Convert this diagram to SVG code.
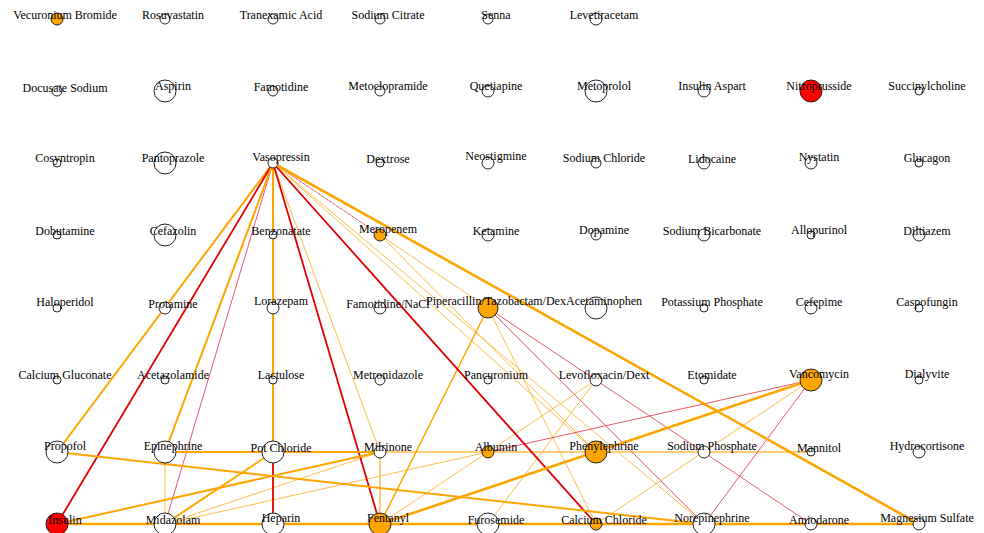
<svg xmlns="http://www.w3.org/2000/svg" width="984" height="533" viewBox="0 0 984 533">
<style>
.n circle{fill:#fff;stroke:#222;stroke-width:1}
.n circle.o{fill:#FFA500}
.n circle.r{fill:#FF0000}
.n text{font-family:"Liberation Serif","Times New Roman",serif;font-size:12px;text-anchor:middle;fill:#000}
.e line{fill:none;stroke-linecap:round}
.ot{stroke:#FFA500;stroke-width:2}
.ok{stroke:#FFA500;stroke-width:2.6}
.ol{stroke:#FFBE4A;stroke-width:1}
.rt{stroke:#E30000;stroke-width:1.8}
.rl{stroke:#E4465A;stroke-width:0.9}
</style>
<rect width="984" height="533" fill="#fff"/>
<g id="edges" class="e">
<line class="ol" x1="273" y1="163" x2="380" y2="452"/>
<line class="ol" x1="273" y1="163" x2="596" y2="452"/>
<line class="ol" x1="273" y1="163" x2="704" y2="524"/>
<line class="rl" x1="273" y1="163" x2="380" y2="235" stroke-dasharray="3,1.5"/>
<line class="ol" x1="380" y1="235" x2="488" y2="308"/>
<line class="ol" x1="380" y1="235" x2="596" y2="452"/>
<line class="rl" x1="273" y1="163" x2="165" y2="524"/>
<line class="ol" x1="165" y1="452" x2="165" y2="524"/>
<line class="ol" x1="380" y1="452" x2="811" y2="452" style="stroke-width:1.3"/>
<line class="ol" x1="165" y1="524" x2="380" y2="452"/>
<line class="ol" x1="165" y1="524" x2="488" y2="452"/>
<line class="ol" x1="380" y1="452" x2="380" y2="524" style="stroke-width:1.5"/>
<line class="ol" x1="380" y1="524" x2="596" y2="380"/>
<line class="ol" x1="596" y1="380" x2="488" y2="524"/>
<line class="ol" x1="488" y1="308" x2="596" y2="524"/>
<line class="ol" x1="811" y1="380" x2="596" y2="524"/>
<line class="rl" x1="811" y1="380" x2="488" y2="452"/>
<line class="rl" x1="811" y1="380" x2="704" y2="524"/>
<line class="rl" x1="488" y1="308" x2="704" y2="524"/>
<line class="rl" x1="488" y1="308" x2="811" y2="524"/>
<line class="ot" x1="488" y1="308" x2="380" y2="524" style="stroke-width:1.5"/>
<line class="ot" x1="273" y1="163" x2="57" y2="452"/>
<line class="rt" x1="273" y1="163" x2="57" y2="524"/>
<line class="ot" x1="273" y1="163" x2="165" y2="452"/>
<line class="ot" x1="273" y1="163" x2="273" y2="452"/>
<line class="rt" x1="273" y1="163" x2="380" y2="524"/>
<line class="rt" x1="273" y1="163" x2="596" y2="524"/>
<line class="ok" x1="273" y1="163" x2="919" y2="524"/>
<line class="rt" x1="273" y1="452" x2="273" y2="524"/>
<line class="ot" x1="273" y1="452" x2="165" y2="524"/>
<line class="ot" x1="165" y1="452" x2="380" y2="452"/>
<line class="ot" x1="57" y1="452" x2="704" y2="524"/>
<line class="ot" x1="57" y1="524" x2="380" y2="452"/>
<line class="ok" x1="57" y1="524" x2="919" y2="524"/>
<line class="ok" x1="811" y1="380" x2="380" y2="524"/>
</g>
<g id="n-vecuronium" class="n"><circle class="o" cx="57" cy="19" r="6"/><text x="65" y="18.5">Vecuronium Bromide</text></g>
<g id="n-rosuvastatin" class="n"><circle cx="165" cy="19" r="5"/><text x="173" y="18.5">Rosuvastatin</text></g>
<g id="n-tranexamic" class="n"><circle cx="273" cy="19" r="5"/><text x="281" y="18.5">Tranexamic Acid</text></g>
<g id="n-sodiumcitrate" class="n"><circle cx="380" cy="19" r="5"/><text x="388" y="18.5">Sodium Citrate</text></g>
<g id="n-senna" class="n"><circle cx="488" cy="19" r="5"/><text x="496" y="18.5">Senna</text></g>
<g id="n-levetiracetam" class="n"><circle cx="596" cy="19" r="6"/><text x="604" y="18.5">Levetiracetam</text></g>

<g id="n-docusate" class="n"><circle cx="57" cy="91" r="5"/><text x="65" y="92">Docusate Sodium</text></g>
<g id="n-aspirin" class="n"><circle cx="165" cy="91" r="11"/><text x="173" y="89.5">Aspirin</text></g>
<g id="n-famotidine" class="n"><circle cx="273" cy="91" r="5"/><text x="281" y="91">Famotidine</text></g>
<g id="n-metoclopramide" class="n"><circle cx="380" cy="91" r="5"/><text x="388" y="90">Metoclopramide</text></g>
<g id="n-quetiapine" class="n"><circle cx="488" cy="91" r="6"/><text x="496" y="89.5">Quetiapine</text></g>
<g id="n-metoprolol" class="n"><circle cx="596" cy="91" r="11"/><text x="604" y="89.5">Metoprolol</text></g>
<g id="n-insulinaspart" class="n"><circle cx="704" cy="91" r="6"/><text x="712" y="89.5">Insulin Aspart</text></g>
<g id="n-nitroprusside" class="n"><circle class="r" cx="811" cy="91" r="11"/><text x="819" y="89.5">Nitroprusside</text></g>
<g id="n-succinylcholine" class="n"><circle cx="919" cy="91" r="4"/><text x="927" y="89.5">Succinylcholine</text></g>

<g id="n-cosyntropin" class="n"><circle cx="57" cy="163" r="4"/><text x="65" y="162">Cosyntropin</text></g>
<g id="n-pantoprazole" class="n"><circle cx="165" cy="163" r="11"/><text x="173" y="162">Pantoprazole</text></g>
<g id="n-vasopressin" class="n"><circle cx="273" cy="163" r="5"/><text x="281" y="161">Vasopressin</text></g>
<g id="n-dextrose" class="n"><circle cx="380" cy="163" r="4"/><text x="388" y="163">Dextrose</text></g>
<g id="n-neostigmine" class="n"><circle cx="488" cy="163" r="6"/><text x="496" y="159.5">Neostigmine</text></g>
<g id="n-sodiumchloride" class="n"><circle cx="596" cy="163" r="5"/><text x="604" y="162">Sodium Chloride</text></g>
<g id="n-lidocaine" class="n"><circle cx="704" cy="163" r="6"/><text x="712" y="163">Lidocaine</text></g>
<g id="n-nystatin" class="n"><circle cx="811" cy="163" r="6"/><text x="819" y="161">Nystatin</text></g>
<g id="n-glucagon" class="n"><circle cx="919" cy="163" r="4"/><text x="927" y="162">Glucagon</text></g>

<g id="n-dobutamine" class="n"><circle cx="57" cy="235" r="4"/><text x="65" y="235">Dobutamine</text></g>
<g id="n-cefazolin" class="n"><circle cx="165" cy="235" r="11"/><text x="173" y="235">Cefazolin</text></g>
<g id="n-benzonatate" class="n"><circle cx="273" cy="235" r="4"/><text x="281" y="234.5">Benzonatate</text></g>
<g id="n-meropenem" class="n"><circle class="o" cx="380" cy="235" r="6"/><text x="388" y="233">Meropenem</text></g>
<g id="n-ketamine" class="n"><circle cx="488" cy="235" r="6"/><text x="496" y="235">Ketamine</text></g>
<g id="n-dopamine" class="n"><circle cx="596" cy="235" r="5"/><text x="604" y="234">Dopamine</text></g>
<g id="n-sodiumbicarbonate" class="n"><circle cx="704" cy="235" r="6"/><text x="712" y="235">Sodium Bicarbonate</text></g>
<g id="n-allopurinol" class="n"><circle cx="811" cy="235" r="4"/><text x="819" y="233.5">Allopurinol</text></g>
<g id="n-diltiazem" class="n"><circle cx="919" cy="235" r="6"/><text x="927" y="235">Diltiazem</text></g>

<g id="n-haloperidol" class="n"><circle cx="57" cy="308" r="4"/><text x="65" y="305.5">Haloperidol</text></g>
<g id="n-protamine" class="n"><circle cx="165" cy="308" r="6"/><text x="173" y="307.5">Protamine</text></g>
<g id="n-lorazepam" class="n"><circle cx="273" cy="308" r="6"/><text x="281" y="305">Lorazepam</text></g>
<g id="n-famotidinenacl" class="n"><circle cx="380" cy="308" r="6"/><text x="388" y="307.5">Famotidine/NaCl</text></g>
<g id="n-piptaz" class="n"><circle class="o" cx="488" cy="308" r="10"/><text x="496" y="305">Piperacillin/Tazobactam/Dex</text></g>
<g id="n-acetaminophen" class="n"><circle cx="596" cy="308" r="11"/><text x="604" y="305">Acetaminophen</text></g>
<g id="n-potassiumphosphate" class="n"><circle cx="704" cy="308" r="4"/><text x="712" y="306">Potassium Phosphate</text></g>
<g id="n-cefepime" class="n"><circle cx="811" cy="308" r="6"/><text x="819" y="306">Cefepime</text></g>
<g id="n-caspofungin" class="n"><circle cx="919" cy="308" r="4"/><text x="927" y="306">Caspofungin</text></g>

<g id="n-calciumgluconate" class="n"><circle cx="57" cy="380" r="4"/><text x="65" y="379">Calcium Gluconate</text></g>
<g id="n-acetazolamide" class="n"><circle cx="165" cy="380" r="4"/><text x="173" y="379">Acetazolamide</text></g>
<g id="n-lactulose" class="n"><circle cx="273" cy="380" r="4"/><text x="281" y="379">Lactulose</text></g>
<g id="n-metronidazole" class="n"><circle cx="380" cy="380" r="5"/><text x="388" y="379">Metronidazole</text></g>
<g id="n-pancuronium" class="n"><circle cx="488" cy="380" r="4"/><text x="496" y="379">Pancuronium</text></g>
<g id="n-levofloxacin" class="n"><circle cx="596" cy="380" r="6"/><text x="604" y="379">Levofloxacin/Dext</text></g>
<g id="n-etomidate" class="n"><circle cx="704" cy="380" r="4"/><text x="712" y="379">Etomidate</text></g>
<g id="n-vancomycin" class="n"><circle class="o" cx="811" cy="380" r="11"/><text x="819" y="377.5">Vancomycin</text></g>
<g id="n-dialyvite" class="n"><circle cx="919" cy="380" r="4"/><text x="927" y="377.5">Dialyvite</text></g>

<g id="n-propofol" class="n"><circle cx="57" cy="452" r="11"/><text x="65" y="450">Propofol</text></g>
<g id="n-epinephrine" class="n"><circle cx="165" cy="452" r="11"/><text x="173" y="450">Epinephrine</text></g>
<g id="n-potchloride" class="n"><circle cx="273" cy="452" r="11"/><text x="281" y="451.5">Pot Chloride</text></g>
<g id="n-milrinone" class="n"><circle cx="380" cy="452" r="6"/><text x="388" y="451">Milrinone</text></g>
<g id="n-albumin" class="n"><circle class="o" cx="488" cy="452" r="6"/><text x="496" y="451">Albumin</text></g>
<g id="n-phenylephrine" class="n"><circle class="o" cx="596" cy="452" r="11"/><text x="604" y="450">Phenylephrine</text></g>
<g id="n-sodiumphosphate" class="n"><circle cx="704" cy="452" r="6"/><text x="712" y="450">Sodium Phosphate</text></g>
<g id="n-mannitol" class="n"><circle cx="811" cy="452" r="4"/><text x="819" y="451.5">Mannitol</text></g>
<g id="n-hydrocortisone" class="n"><circle cx="919" cy="452" r="6"/><text x="927" y="450">Hydrocortisone</text></g>

<g id="n-insulin" class="n"><circle class="r" cx="57" cy="524" r="11"/><text x="65" y="523.5">Insulin</text></g>
<g id="n-midazolam" class="n"><circle cx="165" cy="524" r="11"/><text x="173" y="523.5">Midazolam</text></g>
<g id="n-heparin" class="n"><circle cx="273" cy="524" r="11"/><text x="281" y="522">Heparin</text></g>
<g id="n-fentanyl" class="n"><circle class="o" cx="380" cy="524" r="11"/><text x="388" y="522">Fentanyl</text></g>
<g id="n-furosemide" class="n"><circle cx="488" cy="524" r="11"/><text x="496" y="523.5">Furosemide</text></g>
<g id="n-calciumchloride" class="n"><circle class="o" cx="596" cy="524" r="6"/><text x="604" y="523.5">Calcium Chloride</text></g>
<g id="n-norepinephrine" class="n"><circle cx="704" cy="524" r="11"/><text x="712" y="522">Norepinephrine</text></g>
<g id="n-amiodarone" class="n"><circle cx="811" cy="524" r="6"/><text x="819" y="523.5">Amiodarone</text></g>
<g id="n-magnesiumsulfate" class="n"><circle cx="919" cy="524" r="6"/><text x="927" y="522">Magnesium Sulfate</text></g>
</svg>
